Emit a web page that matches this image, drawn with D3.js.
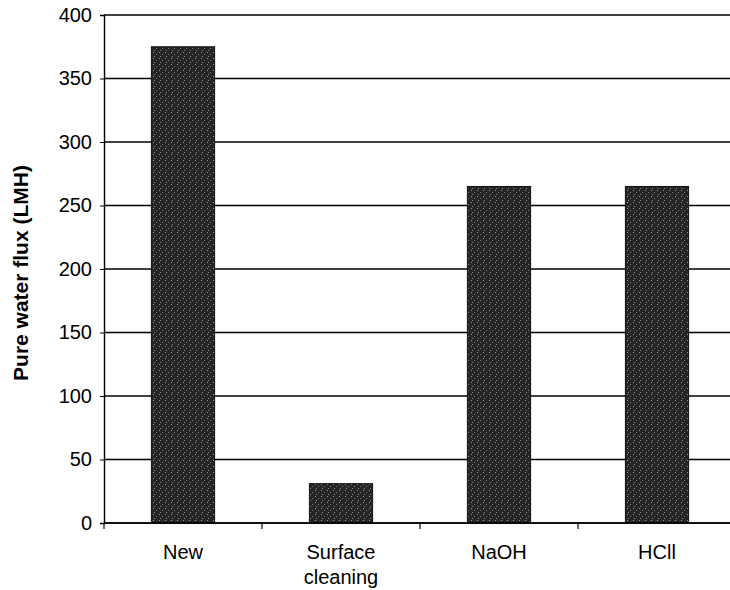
<!DOCTYPE html>
<html>
<head>
<meta charset="utf-8">
<script src="https://cdn.jsdelivr.net/npm/d3@7"></script>
<style>
  body { margin: 0; background: #fff; }
  svg { font-family: 'Liberation Sans', Arial, sans-serif; }
</style>
</head>
<body>
<div id="chart"></div>
<script>
const categories = [['New'], ['Surface', 'cleaning'], ['NaOH'], ['HCll']]
const fluxValues = [375, 31, 265, 265]
const yTicks = [0, 50, 100, 150, 200, 250, 300, 350, 400]

const margin = { top: 15, left: 104, right: -6, bottom: 67 }
const width = 730 - margin.left - margin.right
const height = 590 - margin.top - margin.bottom

const svg = d3
  .select('#chart')
  .append('svg')
  .attr('width', 730)
  .attr('height', 590)
  .append('g')
  .attr('transform', 'translate(' + margin.left + ',' + margin.top + ')')

// stipple texture for the bars
const defs = svg.append('defs')
const pat = defs.append('pattern')
  .attr('id', 'stipple')
  .attr('width', 6)
  .attr('height', 6)
  .attr('patternUnits', 'userSpaceOnUse')
pat.append('rect').attr('width', 6).attr('height', 6).attr('fill', '#262626')
pat.append('rect').attr('x', 1).attr('y', 1).attr('width', 1).attr('height', 1).attr('fill', '#9a9a9a')
pat.append('rect').attr('x', 4).attr('y', 3).attr('width', 1).attr('height', 1).attr('fill', '#7a7a7a')
pat.append('rect').attr('x', 2).attr('y', 5).attr('width', 1).attr('height', 1).attr('fill', '#888')

const data = categories.map((c, i) => ({ key: c.join(' '), lines: c, value: fluxValues[i] }))

const x = d3.scaleBand()
  .domain(data.map(d => d.key))
  .range([0, width])
  .paddingInner(0.6)
  .paddingOuter(0.3)

const y = d3.scaleLinear().domain([0, 400]).range([height, 0])

// gridlines
svg.selectAll('.grid')
  .data(yTicks)
  .enter()
  .append('line')
  .attr('class', 'grid')
  .attr('x1', 0)
  .attr('x2', width)
  .attr('y1', d => y(d))
  .attr('y2', d => y(d))
  .attr('stroke', '#000')
  .attr('stroke-width', 1.4)

// y axis
const yAxis = svg.append('g')
  .call(d3.axisLeft(y).tickValues(yTicks).tickSize(4).tickPadding(8))
yAxis.select('.domain').attr('stroke', '#000').attr('stroke-width', 1.4)
yAxis.selectAll('text').attr('font-size', 20).attr('fill', '#000')
  .attr('font-family', "'Liberation Sans', Arial, sans-serif")

// bars
svg.selectAll('.bar')
  .data(data)
  .enter()
  .append('rect')
  .attr('class', 'bar')
  .attr('x', d => x(d.key))
  .attr('width', x.bandwidth())
  .attr('y', d => y(d.value))
  .attr('height', d => y(0) - y(d.value))
  .attr('fill', 'url(#stipple)')
  .attr('stroke', '#111')
  .attr('stroke-width', 1)

// x axis baseline and ticks between categories
svg.append('line')
  .attr('x1', 0).attr('x2', width)
  .attr('y1', height).attr('y2', height)
  .attr('stroke', '#000').attr('stroke-width', 1.4)

const step = x.step()
svg.selectAll('.xtick')
  .data(data)
  .enter()
  .append('line')
  .attr('class', 'xtick')
  .attr('x1', d => x(d.key) - step * x.paddingOuter())
  .attr('x2', d => x(d.key) - step * x.paddingOuter())
  .attr('y1', height)
  .attr('y2', height + 6)
  .attr('stroke', '#000')
  .attr('stroke-width', 1.2)

// category labels
const labels = svg.selectAll('.cat')
  .data(data)
  .enter()
  .append('text')
  .attr('class', 'cat')
  .attr('x', d => x(d.key) + x.bandwidth() / 2)
  .attr('y', height + 36)
  .attr('text-anchor', 'middle')
  .attr('font-size', 20)
labels.selectAll('tspan')
  .data(d => d.lines)
  .enter()
  .append('tspan')
  .attr('x', function() { return d3.select(this.parentNode).attr('x') })
  .attr('dy', (d, i) => i === 0 ? 0 : 25)
  .text(d => d)

// y axis title
svg.append('text')
  .text('Pure water flux (LMH)')
  .attr('transform', 'translate(' + (28 - margin.left) + ',258) rotate(-90)')
  .attr('text-anchor', 'middle')
  .attr('font-size', 21)
  .attr('font-weight', 'bold')
</script>
</body>
</html>
